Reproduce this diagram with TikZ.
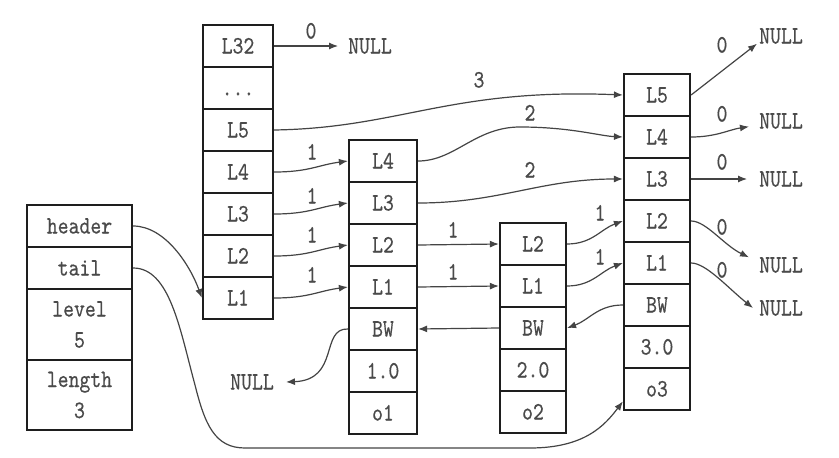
\documentclass[tikz,border=0pt]{standalone}
\usepackage{fontspec}
\newfontfamily\cour{lmmono10-regular.otf}[FakeStretch=0.83,FakeBold=0.4]
\usetikzlibrary{arrows.meta}
\definecolor{txt}{HTML}{4a4a4a}
\definecolor{ln}{HTML}{444444}
\definecolor{bx}{HTML}{1e1e1e}
\begin{document}
\begin{tikzpicture}[x=1pt,y=-1pt,
  base/.style={font=\cour\fontsize{25}{31}\selectfont, text=txt},
  cell/.style={base, draw=bx, line width=2.2pt, minimum height=42pt, inner sep=0pt, text height=15pt, text depth=0pt},
  tall/.style={base, draw=bx, line width=2.2pt, inner sep=0pt, align=center},
  wA/.style={cell, minimum width=70pt},
  wB/.style={cell, minimum width=68pt},
  wC/.style={cell, minimum width=66pt},
  lbl/.style={base, inner sep=0pt, text height=15pt, text depth=0pt},
  nul/.style={base, inner ysep=0pt, text height=15pt, text depth=0pt},
  arr/.style={draw=ln, line width=1.2pt, -{Latex[length=9pt,width=7pt]}},
]
\useasboundingbox (0,0) rectangle (839,458);
\fill[white] (0,0) rectangle (839,458);

% header structure
\node[cell, minimum width=105pt] (hdr) at (79.5,226) {header};
\node[cell, minimum width=105pt] (tail) at (79.5,268) {tail};
\node[tall, minimum width=105pt, minimum height=71pt] (lvl) at (79.5,324.5) {level\\5};
\node[tall, minimum width=105pt, minimum height=70pt] (len) at (79.5,395) {length\\3};

% header node
\node[wA] (aL32) at (238,46) {L32};
\node[wA] (adots) at (238,88) {...};
\node[wA] (aL5) at (238,130) {L5};
\node[wA] (aL4) at (238,172) {L4};
\node[wA] (aL3) at (238,214) {L3};
\node[wA] (aL2) at (238,256) {L2};
\node[wA] (aL1) at (238,298) {L1};

% node 1
\node[wB] (bL4) at (383,161) {L4};
\node[wB] (bL3) at (383,203) {L3};
\node[wB] (bL2) at (383,245) {L2};
\node[wB] (bL1) at (383,287) {L1};
\node[wB] (bBW) at (383,329) {BW};
\node[wB] (bS) at (383,371) {1.0};
\node[wB] (bO) at (383,413) {o1};

% node 2
\node[wC] (cL2) at (533,244) {L2};
\node[wC] (cL1) at (533,286) {L1};
\node[wC] (cBW) at (533,328) {BW};
\node[wC] (cS) at (533,370) {2.0};
\node[wC] (cO) at (533,412) {o2};

% node 3
\node[wC] (dL5) at (657,95) {L5};
\node[wC] (dL4) at (657,137) {L4};
\node[wC] (dL3) at (657,179) {L3};
\node[wC] (dL2) at (657,221) {L2};
\node[wC] (dL1) at (657,263) {L1};
\node[wC] (dBW) at (657,305) {BW};
\node[wC] (dS) at (657,347) {3.0};
\node[wC] (dO) at (657,389) {o3};

% NULL nodes
\node[nul, inner xsep=10pt] (n1) at (370,46) {NULL};
\node[nul, inner xsep=12pt] (n2) at (252,382) {NULL};
\node[nul, inner xsep=2pt] (n3) at (781,36) {NULL};
\node[nul, inner xsep=10pt] (n4) at (781,121) {NULL};
\node[nul, inner xsep=12pt] (n5) at (781,179) {NULL};
\node[nul, inner xsep=10pt] (n6) at (781,265) {NULL};
\node[nul, inner xsep=6pt] (n7) at (781,308) {NULL};

% labels
\node[lbl] (t1) at (311,31) {0};
\node[lbl] (t2) at (479,80) {3};
\node[lbl] (t3) at (530,113) {2};
\node[lbl] (t4) at (530,170) {2};
\node[lbl] (t5) at (312,152) {1};
\node[lbl] (t6) at (312,196) {1};
\node[lbl] (t7) at (312,235) {1};
\node[lbl] (t8) at (312,275) {1};
\node[lbl] (t9) at (453,230) {1};
\node[lbl] (t10) at (453,272) {1};
\node[lbl] (t11) at (600,213) {1};
\node[lbl] (t12) at (600,257) {1};
\node[lbl] (t13) at (722,45) {0};
\node[lbl] (t14) at (722,114) {0};
\node[lbl] (t15) at (722,162) {0};
\node[lbl] (t16) at (722,227) {0};
\node[lbl] (t17) at (722,270) {0};

% connectors
\draw[arr] (aL32.east) -- (n1.west);
\draw[arr] (aL5.east) .. controls (400,128) and (450,88) .. (dL5.west);
\draw[arr] (aL4.east) .. controls +(35,0) and +(-30,4) .. (bL4.west);
\draw[arr] (aL3.east) .. controls +(35,0) and +(-30,4) .. (bL3.west);
\draw[arr] (aL2.east) .. controls +(35,0) and +(-30,4) .. (bL2.west);
\draw[arr] (aL1.east) .. controls +(35,0) and +(-30,4) .. (bL1.west);
\draw[arr] (bL4.east) .. controls (455,161) and (475,127) .. (520,127) .. controls (570,127) and (600,136) .. (dL4.west);
\draw[arr] (bL3.east) .. controls (500,203) and (540,179) .. (dL3.west);
\draw[arr] (bL2.east) -- (cL2.west);
\draw[arr] (bL1.east) -- (cL1.west);
\draw[arr] (cL2.east) .. controls +(25,0) and +(-22,8) .. (dL2.west);
\draw[arr] (cL1.east) .. controls +(25,0) and +(-22,8) .. (dL1.west);
\draw[arr] (cBW.west) -- (bBW.east);
\draw[arr] (dBW.west) .. controls +(-25,0) and +(22,-8) .. (cBW.east);
\draw[arr] (bBW.west) .. controls (320,328) and (340,380) .. (n2.east);
\draw[arr] (dL5.east) -- (n3.south west);
\draw[arr] (dL4.east) .. controls +(25,0) and +(-20,3) .. (n4.190);
\draw[arr] (dL3.east) -- (n5.west);
\draw[arr] (dL2.east) .. controls +(15,0) and +(-25,-12) .. (n6.north west);
\draw[arr] (dL1.east) .. controls +(15,0) and +(-25,-20) .. (n7.west);
\draw[arr] (hdr.east) .. controls (165,226) and (190,265) .. (aL1.west);
\draw[arr] (tail.east) .. controls (170,268) and (180,330) .. (195,385) .. controls (205,425) and (215,448) .. (245,448) -- (530,448) .. controls (585,448) and (605,425) .. (dO.200);
\end{tikzpicture}
\end{document}
